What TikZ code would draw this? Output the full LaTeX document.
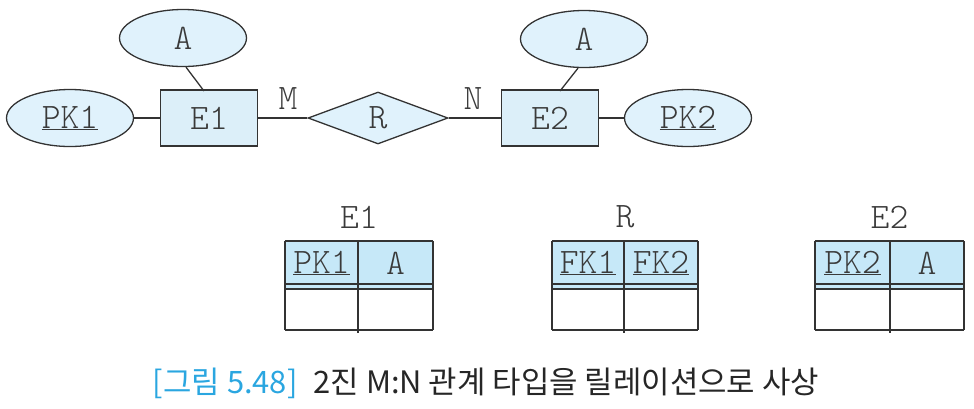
\documentclass[tikz,border=0pt]{standalone}
\usepackage{fontspec}
\setmonofont{Latin Modern Mono Light}
\newfontfamily\kor{Noto Sans CJK KR}
\usetikzlibrary{shapes.geometric}
\definecolor{attrfill}{HTML}{E0F2FC}
\definecolor{entfill}{HTML}{DCEFF9}
\definecolor{headfill}{HTML}{C6E8F8}
\definecolor{linec}{HTML}{333333}
\definecolor{txtc}{HTML}{3A3A3A}
\definecolor{capblue}{HTML}{2AA6E0}
\newcommand\ulk[1]{\underline{#1}}
\tikzset{
  base/.style={font=\ttfamily\fontsize{36}{40}\selectfont, text=txtc, inner sep=0pt},
  attr/.style={base, ellipse, draw=linec, line width=1.3bp, fill=attrfill, minimum width=127bp, minimum height=57bp},
  ent/.style={base, rectangle, draw=linec, line width=1.3bp, fill=entfill, minimum width=97bp, minimum height=56bp},
  rel/.style={base, diamond, draw=linec, line width=1.3bp, fill=attrfill, aspect=2.8, minimum width=140bp, minimum height=52bp},
  conn/.style={draw=linec, line width=1.3bp},
  lbl/.style={base},
  tline/.style={draw=linec, line width=1.3bp},
}
\begin{document}
\begin{tikzpicture}[x=1bp,y=-1bp]
\useasboundingbox (0,0) rectangle (974,408);
% ER diagram
\node[attr] (a1) at (183,38) {A};
\node[attr] (pk1) at (70,118) {\ulk{PK1}};
\node[ent] (e1) at (209,118) {E1};
\node[rel] (r) at (378,118) {R};
\node[ent] (e2) at (550,118) {E2};
\node[attr] (a2) at (584,39) {A};
\node[attr] (pk2) at (688,118) {\ulk{PK2}};
\node[lbl] (m) at (288,99) {M};
\node[lbl] (n) at (473,99) {N};
\draw[conn] (pk1) -- (e1);
\draw[conn] (e1) -- (r);
\draw[conn] (r) -- (e2);
\draw[conn] (e2) -- (pk2);
\draw[conn] (a1.south) ++(3,0) coordinate (a1s) -- (204,91) coordinate (e1t);
\draw[conn] (a2.south) ++(-6,0) coordinate (a2s) -- (560,91) coordinate (e2t);
% tables
\foreach \nm/\L/\M/\R/\ta/\tb/\ttl in {t1/285/358/433/\ulk{PK1}/A/E1, t2/552/624/698/\ulk{FK1}/\ulk{FK2}/R, t3/815/890/964/\ulk{PK2}/A/E2}{
  \fill[headfill] (\L,241) rectangle (\R,289);
  \draw[tline] (\L,241) -- (\R,241);
  \draw[tline] (\L,284) -- (\R,284);
  \draw[tline] (\L,289) -- (\R,289);
  \draw[tline] (\L,330) -- (\R,330);
  \draw[tline] (\L,241) -- (\L,330);
  \draw[tline] (\M,241) -- (\M,333);
  \draw[tline] (\R,241) -- (\R,330);
  \node[lbl] (\nm-c1) at ({(\L+\M)/2},263) {\ta};
  \node[lbl] (\nm-c2) at ({(\M+\R)/2},263) {\tb};
  \node[lbl] (\nm-title) at ({(\L+\R)/2},217) {\ttl};
}
% caption
\node[inner sep=0pt, font=\kor\fontsize{31}{36}\selectfont] (cap) at (486,383)
  {\textcolor{capblue}{[그림 5.48]}\hspace{16bp}\textcolor{black!85}{2진 M:N 관계 타입을 릴레이션으로 사상}};
\end{tikzpicture}
\end{document}
